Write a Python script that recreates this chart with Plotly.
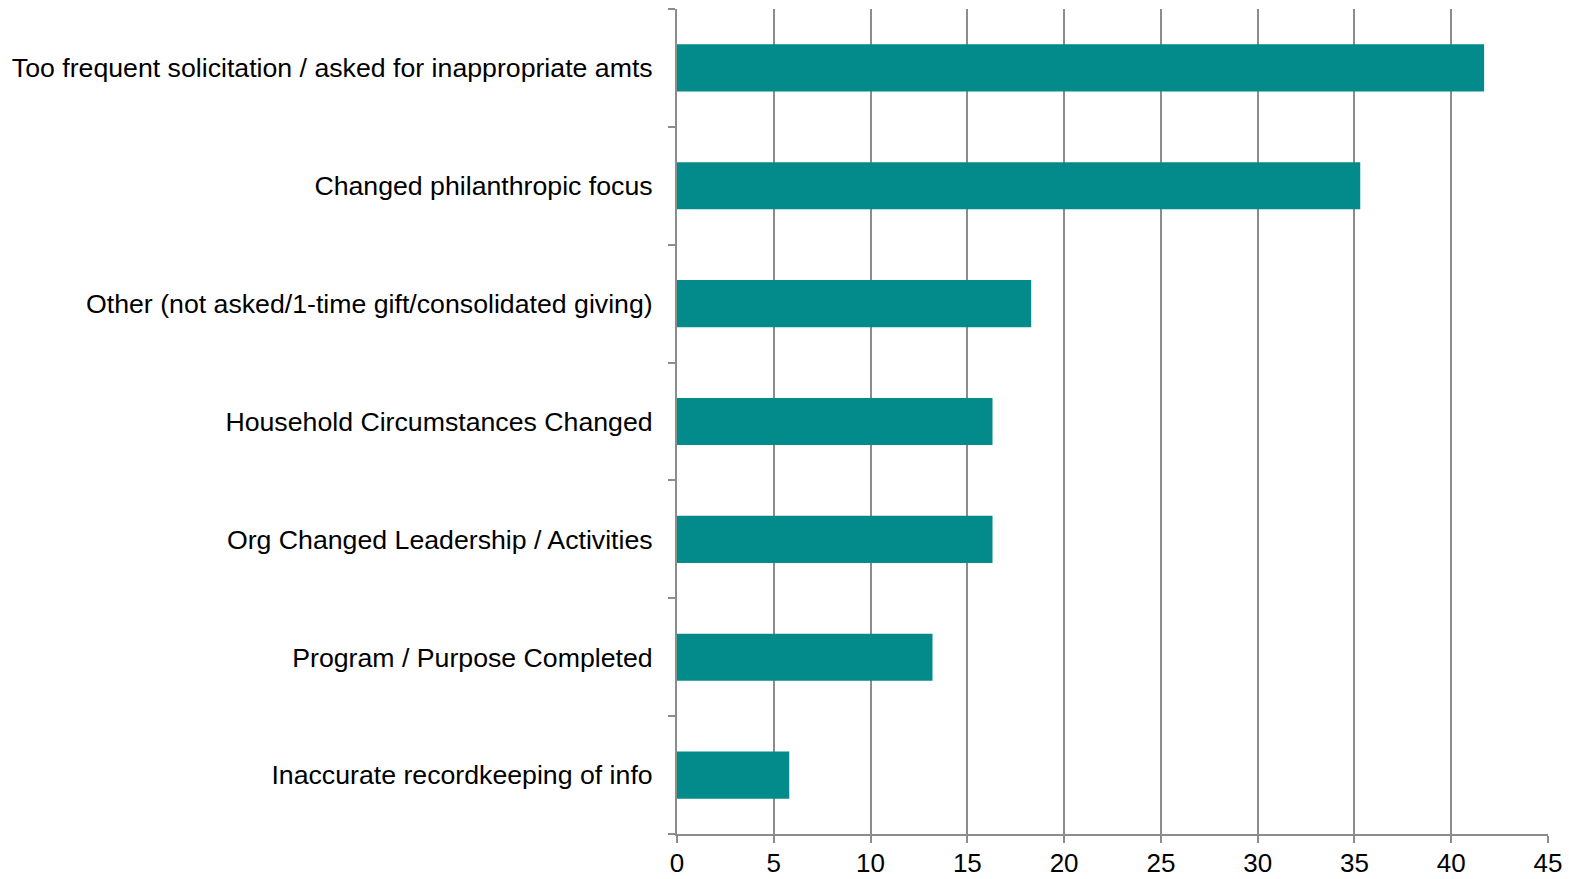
import plotly.graph_objects as go

# Reasons for lapsed giving, listed top to bottom
reasons = [
    "Too frequent solicitation / asked for inappropriate amts",
    "Changed philanthropic focus",
    "Other (not asked/1-time gift/consolidated giving)",
    "Household Circumstances Changed",
    "Org Changed Leadership / Activities",
    "Program / Purpose Completed",
    "Inaccurate recordkeeping of info",
]
percent = [41.7, 35.3, 18.3, 16.3, 16.3, 13.2, 5.8]
x_ticks = [0, 5, 10, 15, 20, 25, 30, 35, 40, 45]

BAR = "#038A8A"
GRID = "#8C8C8C"
FONT_SIZE = 26.7

fig = go.Figure(
    go.Bar(
        x=percent,
        y=reasons,
        orientation="h",
        marker=dict(color=BAR, line=dict(width=0)),
        width=0.4,
    )
)

fig.update_layout(
    width=1569,
    height=879,
    margin=dict(l=677, r=21, t=9, b=45),
    paper_bgcolor="white",
    plot_bgcolor="white",
    font=dict(family="Liberation Sans", size=FONT_SIZE, color="#000000"),
    showlegend=False,
)

fig.update_xaxes(
    range=[0, 45],
    tickvals=x_ticks,
    showgrid=True,
    gridcolor=GRID,
    gridwidth=2,
    zeroline=False,
    showline=True,
    linecolor=GRID,
    linewidth=2,
    ticks="outside",
    ticklen=7,
    tickwidth=2,
    tickcolor=GRID,
    tickfont=dict(size=26),
    ticklabelstandoff=-2,
    automargin=False,
)

fig.update_yaxes(
    categoryorder="array",
    categoryarray=reasons[::-1],
    range=[-0.5, 6.5],
    showgrid=False,
    zeroline=False,
    showline=True,
    linecolor=GRID,
    linewidth=2,
    ticks="outside",
    tickson="boundaries",
    ticklen=7,
    tickwidth=2,
    tickcolor=GRID,
    ticklabelstandoff=17,
    tickfont=dict(size=FONT_SIZE),
    automargin=False,
)

fig.write_html("out.html")
